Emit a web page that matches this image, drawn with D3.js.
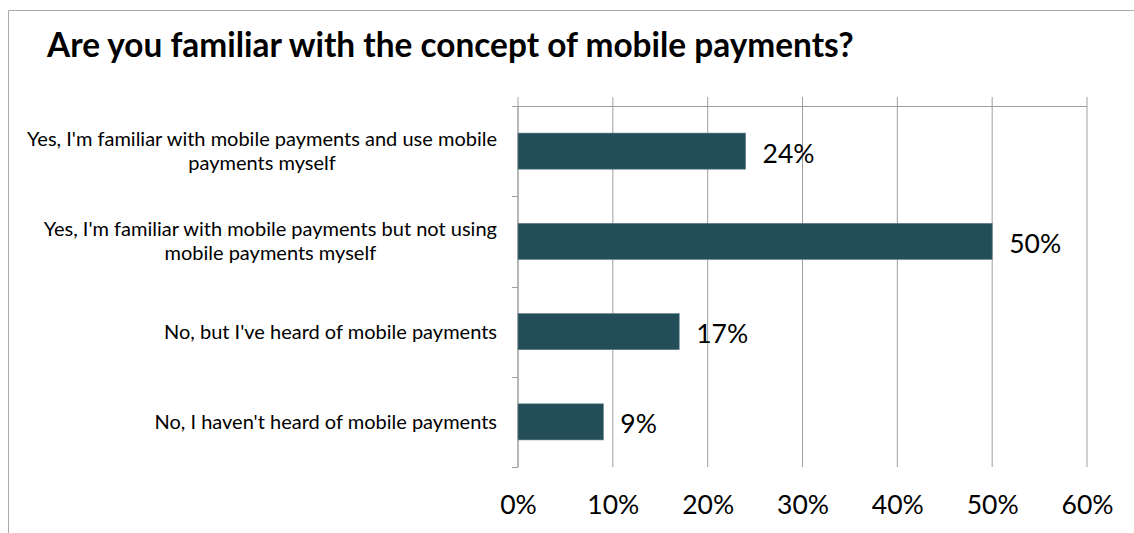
<!DOCTYPE html>
<html>
<head>
<meta charset="utf-8">
<script src="https://cdn.jsdelivr.net/npm/d3@7"></script>
<style>
  html, body { margin: 0; padding: 0; background: #fff; }
  svg { display: block; }
  text { font-family: Lato, "Open Sans", sans-serif; fill: #000; }
</style>
</head>
<body>
<script>
// Survey answers (top to bottom) and share of respondents, in percent
const categories = [
  "Yes, I'm familiar with mobile payments and use mobile payments myself",
  "Yes, I'm familiar with mobile payments but not using mobile payments myself",
  "No, but I've heard of mobile payments",
  "No, I haven't heard of mobile payments"
];
const shares = [24, 50, 17, 9];
const tickValues = [0, 10, 20, 30, 40, 50, 60];
const titleText = "Are you familiar with the concept of mobile payments?";

const W = 1134, H = 533;
const plot = { left: 518, right: 1087, top: 106, bottom: 467 };

const svg = d3.select("body").append("svg")
  .attr("width", W).attr("height", H);

// outer chart frame (left and top edges visible)
svg.append("path")
  .attr("d", `M8.5,${H} V10.5 H${W}`)
  .attr("fill", "none")
  .attr("stroke", "#ababab")
  .attr("stroke-width", 1);

svg.append("text")
  .attr("x", 47).attr("y", 57)
  .attr("font-size", 33.4)
  .attr("font-weight", "bold")
  .text(titleText);

const x = d3.scaleLinear().domain([0, 60]).range([plot.left, plot.right]);
const y = d3.scaleBand().domain(categories).range([plot.top, plot.bottom])
  .paddingInner(0.6).paddingOuter(0.3);

const gridColor = "#9f9f9f";

// vertical gridlines, with short ticks rising above the top edge
svg.append("g").selectAll("line").data(tickValues).join("line")
  .attr("x1", d => x(d)).attr("x2", d => x(d))
  .attr("y1", plot.top - 9).attr("y2", plot.bottom)
  .attr("stroke", gridColor).attr("stroke-width", 1);

// top axis line
svg.append("line")
  .attr("x1", plot.left - 6).attr("x2", plot.right)
  .attr("y1", plot.top + 0.5).attr("y2", plot.top + 0.5)
  .attr("stroke", gridColor);

// category axis line and boundary ticks
const bounds = categories.map(c => y(c) - y.step() * y.paddingInner() / 2);
bounds.push(plot.bottom);
svg.append("line")
  .attr("x1", plot.left).attr("x2", plot.left)
  .attr("y1", plot.top).attr("y2", plot.bottom)
  .attr("stroke", gridColor);
svg.append("g").selectAll("line").data([plot.top, ...bounds.slice(1)]).join("line")
  .attr("x1", plot.left - 6).attr("x2", plot.left)
  .attr("y1", d => Math.round(d) + 0.5).attr("y2", d => Math.round(d) + 0.5)
  .attr("stroke", gridColor);

// value axis labels along the bottom
const xAxis = d3.axisBottom(x).tickValues(tickValues)
  .tickFormat(d => d + "%").tickSize(0).tickPadding(0);
const gx = svg.append("g").attr("transform", `translate(0,${plot.bottom})`).call(xAxis);
gx.select(".domain").remove();
gx.selectAll("text")
  .attr("y", 47).attr("dy", null)
  .attr("font-size", 26.5)
  .attr("font-family", "Lato, sans-serif")
  .attr("fill", "#000");

// bars
svg.append("g").selectAll("rect").data(categories).join("rect")
  .attr("x", x(0))
  .attr("y", d => y(d))
  .attr("width", (d, i) => x(shares[i]) - x(0))
  .attr("height", y.bandwidth())
  .attr("fill", "#244d5a")
  .attr("stroke", "#5f7f89")
  .attr("stroke-width", 0.6);

// value labels
svg.append("g").selectAll("text").data(categories).join("text")
  .attr("x", (d, i) => x(shares[i]) + 17)
  .attr("y", d => y(d) + y.bandwidth() / 2 + 11.5)
  .attr("font-size", 26.5)
  .text((d, i) => shares[i] + "%");

// category labels, wrapped and centred on each band
const maxLabelWidth = 480;
const labelSize = 20;
const lineGap = 24;
const labels = svg.append("g");
categories.forEach(c => {
  const t = labels.append("text")
    .attr("font-size", labelSize)
    .attr("text-anchor", "middle");
  const words = c.split(" ");
  const lines = [];
  let cur = [];
  words.forEach(w => {
    const trial = cur.concat(w).join(" ");
    t.text(trial);
    if (t.node().getComputedTextLength() > maxLabelWidth && cur.length) {
      lines.push(cur.join(" "));
      cur = [w];
    } else {
      cur.push(w);
    }
  });
  lines.push(cur.join(" "));
  t.text(null);
  // widest line sets the right-aligned block; shorter lines centre within it
  const widths = lines.map(l => { t.text(l); return t.node().getComputedTextLength(); });
  t.text(null);
  const blockW = d3.max(widths);
  const cx = plot.left - 21 - blockW / 2;
  const cy = y(c) + y.bandwidth() / 2;
  const firstBase = cy + 7 - (lines.length - 1) * lineGap / 2;
  lines.forEach((l, i) => {
    t.append("tspan").attr("x", cx).attr("y", firstBase + i * lineGap).text(l);
  });
});
</script>
</body>
</html>
